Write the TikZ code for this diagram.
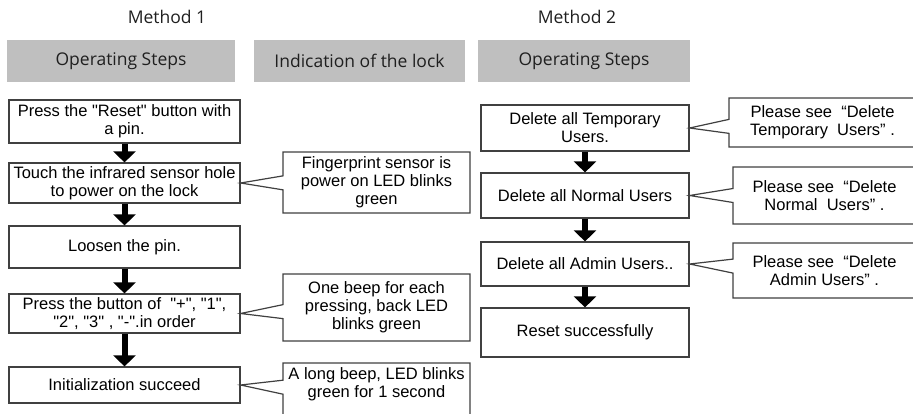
\documentclass[tikz,border=0pt]{standalone}
\usepackage{fontspec}
\setmainfont{Liberation Sans}[Ligatures=TeXOff]
\newfontfamily\headfont{Open Sans}
\usetikzlibrary{shapes.callouts, arrows.meta}
\definecolor{headgray}{HTML}{BFBFBF}
\definecolor{linegray}{HTML}{404040}
\tikzstyle{headbox} = [fill=headgray, minimum height=42pt, text=black!88, font=\headfont\fontsize{17.5}{20}\selectfont]
\tikzstyle{stepbox} = [draw=linegray, line width=1.2pt, align=center, inner sep=2pt, font=\fontsize{16.5}{18}\selectfont]
\tikzstyle{note} = [rectangle callout, draw=linegray, line width=1.2pt, fill=white, align=center, inner sep=2pt, callout pointer width=14pt, font=\fontsize{16.5}{18}\selectfont]
\tikzstyle{arrow} = [line width=6pt, -{Triangle[width=22pt,length=11pt]}]

\begin{document}
\begin{tikzpicture}[x=1pt, y=-1pt]
  \useasboundingbox (0,0) rectangle (913,413);

  % Judul metode
  \node[font=\headfont\fontsize{17.5}{20}\selectfont, text=black!88] (meth1) at (167,17) {Method 1};
  \node[font=\headfont\fontsize{17.5}{20}\selectfont, text=black!88] (meth2) at (577,17) {Method 2};

  % Kepala kolom
  \node[headbox, minimum width=228pt] (head1) at (121,61) {Operating Steps};
  \node[headbox, minimum width=211pt] (head2) at (359.5,61) {Indication of the lock};
  \node[headbox, minimum width=212pt] (head3) at (584,61) {Operating Steps};

  % Langkah metode 1
  \node[stepbox, minimum width=231pt, minimum height=43pt] (b1) at (124.5,121.5) {Press the "Reset" button with\\a pin.};
  \node[stepbox, minimum width=231pt, minimum height=40pt] (b2) at (124.5,183) {Touch the infrared sensor hole\\to power on the lock};
  \node[stepbox, minimum width=231pt, minimum height=42pt] (b3) at (124.5,247) {Loosen the pin.};
  \node[stepbox, minimum width=231pt, minimum height=39pt] (b4) at (124.5,313.5) {Press the button of~~"+", "1",\\"2", "3" , "-".in order};
  \node[stepbox, minimum width=231pt, minimum height=36pt] (b5) at (124.5,385) {Initialization succeed};

  % Langkah metode 2
  \node[stepbox, minimum width=208pt, minimum height=46pt] (m1) at (585,128) {Delete all Temporary\\Users.};
  \node[stepbox, minimum width=208pt, minimum height=45pt] (m2) at (585,195.5) {Delete all Normal Users};
  \node[stepbox, minimum width=208pt, minimum height=44pt] (m3) at (585,264) {Delete all Admin Users..};
  \node[stepbox, minimum width=208pt, minimum height=49pt] (m4) at (585,332.5) {Reset successfully};

  % Panah antar langkah
  \foreach \a/\b in {b1/b2, b2/b3, b3/b4, b4/b5, m1/m2, m2/m3, m3/m4} {
    \draw[arrow] (\a.south) -- (\b.north);
  }

  % Keterangan kunci
  \node[note, minimum width=187pt, minimum height=61pt, callout absolute pointer={(b2.east)}] (f1) at (376.5,182.5) {Fingerprint sensor is\\power on LED blinks\\green};
  \node[note, minimum width=187pt, minimum height=67pt, callout absolute pointer={(b4.east)}] (f2) at (376.5,307.5) {One beep for each\\pressing, back LED\\blinks green};
  \node[note, minimum width=187pt, minimum height=58pt, callout absolute pointer={(b5.east)}] (f3) at (376.5,392) {A long beep, LED blinks\\green for 1 second\\\mbox{}};

  % Keterangan metode 2
  \node[note, minimum width=187pt, minimum height=49pt, callout absolute pointer={(m1.east)}] (r1) at (822.5,122.5) {Please see~~“Delete\\Temporary~~Users”~.};
  \node[note, minimum width=183pt, minimum height=57pt, callout absolute pointer={(m2.east)}] (r2) at (824.5,195.5) {Please see~~“Delete\\Normal~~Users”~.};
  \node[note, minimum width=183pt, minimum height=55pt, callout absolute pointer={(m3.east)}] (r3) at (824.5,270.5) {Please see~~“Delete\\Admin Users”~.};
\end{tikzpicture}
\end{document}
